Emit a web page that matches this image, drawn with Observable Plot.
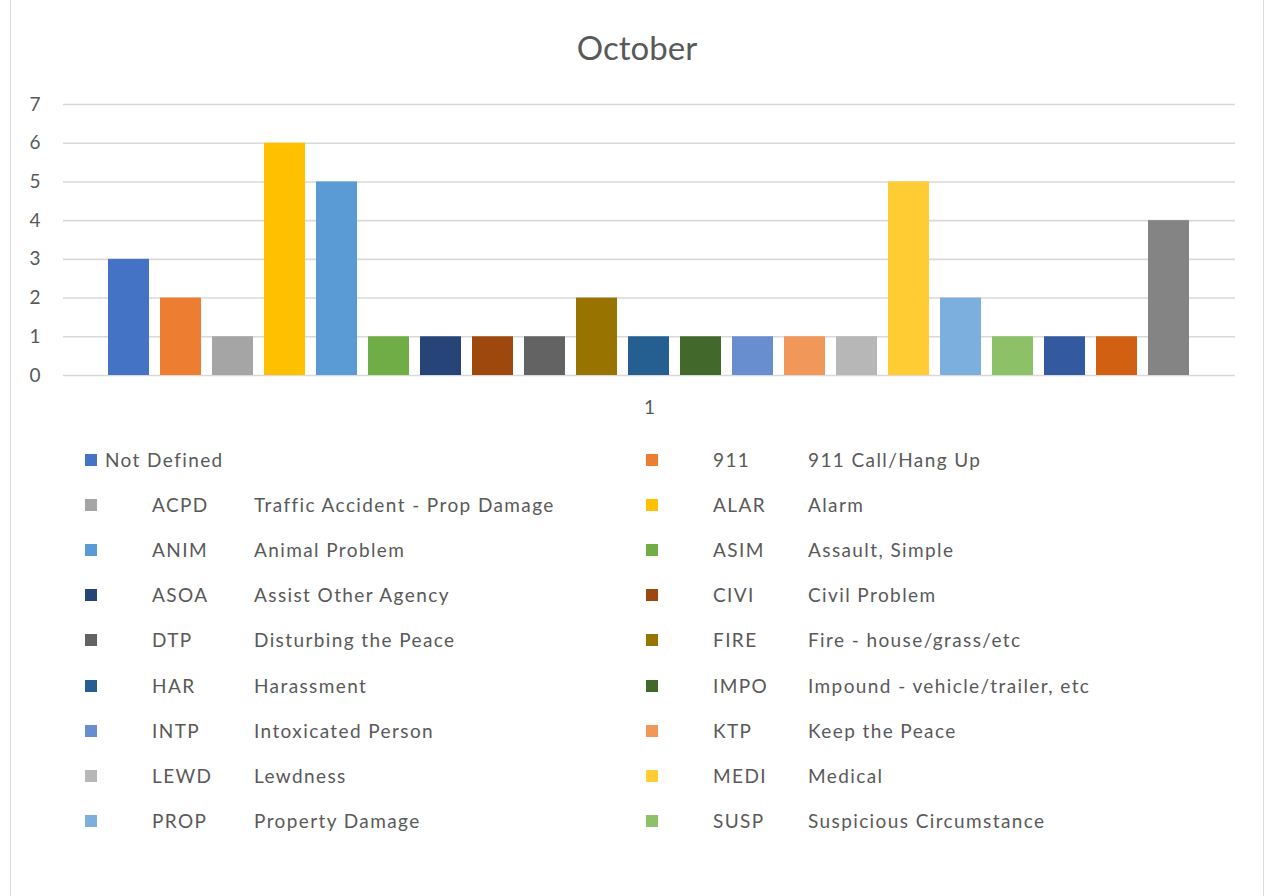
<!DOCTYPE html>
<html>
<head>
<meta charset="utf-8">
<script src="https://cdn.jsdelivr.net/npm/d3@7"></script>
<script src="https://cdn.jsdelivr.net/npm/@observablehq/plot@0.6"></script>
<style>
  html, body { margin: 0; padding: 0; background: #fff; }
  #wrap { position: relative; width: 1268px; height: 896px; overflow: hidden; font-family: Lato, "Noto Sans", sans-serif; color: #595959; }
  #frame { position: absolute; left: 10px; top: -2px; width: 1254px; height: 905px; border: 1.5px solid #d9d9d9; box-sizing: border-box; }
  #title { position: absolute; left: 0; width: 1274px; top: 27px; line-height: 40px; text-align: center; font-size: 33px; }
  #chart { position: absolute; left: 0; top: 0; }
  .lg-sw { position: absolute; width: 12px; height: 12px; }
  .lg-tx { position: absolute; font-size: 19px; line-height: 24px; white-space: nowrap; letter-spacing: 1.4px; }
</style>
</head>
<body>
<div id="wrap">
  <div id="frame"></div>
  <div id="title"></div>
  <div id="chart"></div>
  <div id="legend"></div>
</div>
<script>
// ---- data ----
const chartTitle = "October";
const groupLabels = ["1"];
const yTicks = [0, 1, 2, 3, 4, 5, 6, 7];
const values = [3, 2, 1, 6, 5, 1, 1, 1, 1, 2, 1, 1, 1, 1, 1, 5, 2, 1, 1, 1, 4];
const colors = ["#4472C4", "#ED7D31", "#A5A5A5", "#FFC000", "#5B9BD5", "#70AD47", "#264478",
                "#9E480E", "#636363", "#997300", "#255E91", "#43682B", "#698ED0", "#F1975A",
                "#B7B7B7", "#FFCD33", "#7CAFDD", "#8CC168", "#335AA1", "#D26012", "#848484"];
const legendCodes = ["", "911", "ACPD", "ALAR", "ANIM", "ASIM", "ASOA", "CIVI", "DTP",
                     "FIRE", "HAR", "IMPO", "INTP", "KTP", "LEWD", "MEDI", "PROP", "SUSP"];
const legendNames = ["Not Defined", "911 Call/Hang Up", "Traffic Accident - Prop Damage", "Alarm",
                     "Animal Problem", "Assault, Simple", "Assist Other Agency", "Civil Problem",
                     "Disturbing the Peace", "Fire - house/grass/etc", "Harassment",
                     "Impound - vehicle/trailer, etc", "Intoxicated Person", "Keep the Peace",
                     "Lewdness", "Medical", "Property Damage", "Suspicious Circumstance"];

// ---- chart ----
document.getElementById("title").textContent = chartTitle;

const rows = values.map((v, i) => ({idx: i, value: v, group: groupLabels[0], color: colors[i]}));

const plot = Plot.plot({
  width: 1268,
  height: 430,
  marginTop: 104,
  marginBottom: 55,
  marginLeft: 63,
  marginRight: 33,
  style: {fontFamily: "Lato, 'Noto Sans', sans-serif", fontSize: "19px", color: "#595959", background: "transparent", overflow: "visible"},
  fx: {domain: groupLabels, padding: 0, axis: "bottom", label: null, tickSize: 0, tickPadding: 25},
  x: {domain: d3.range(values.length), axis: null, paddingInner: 0.21, paddingOuter: 0.82},
  y: {domain: [0, 7], ticks: yTicks, tickFormat: "d", tickSize: 0, tickPadding: 23, label: null},
  marks: [
    Plot.gridY(yTicks, {stroke: "#d9d9d9", strokeOpacity: 1, strokeWidth: 1.6}),
    Plot.barY(rows, {fx: "group", x: "idx", y: "value", fill: "color"})
  ]
});
document.getElementById("chart").appendChild(plot);

// ---- legend (HTML, below the plot) ----
const legend = document.getElementById("legend");
legendNames.forEach((name, i) => {
  const col = i % 2, row = Math.floor(i / 2);
  const cy = 460 + row * 45.1;
  const swX = col ? 646 : 85;
  const codeX = col ? 713 : 152;
  const nameX = col ? 808 : 254;
  const sw = document.createElement("div");
  sw.className = "lg-sw";
  sw.style.left = swX + "px";
  sw.style.top = (cy - 6) + "px";
  sw.style.background = colors[i];
  legend.appendChild(sw);
  if (legendCodes[i]) {
    const c = document.createElement("div");
    c.className = "lg-tx";
    c.style.left = codeX + "px";
    c.style.top = (cy - 12) + "px";
    c.textContent = legendCodes[i];
    legend.appendChild(c);
    const n = document.createElement("div");
    n.className = "lg-tx";
    n.style.left = nameX + "px";
    n.style.top = (cy - 12) + "px";
    n.textContent = name;
    legend.appendChild(n);
  } else {
    const n = document.createElement("div");
    n.className = "lg-tx";
    n.style.left = (swX + 20) + "px";
    n.style.top = (cy - 12) + "px";
    n.textContent = name;
    legend.appendChild(n);
  }
});
</script>
</body>
</html>
